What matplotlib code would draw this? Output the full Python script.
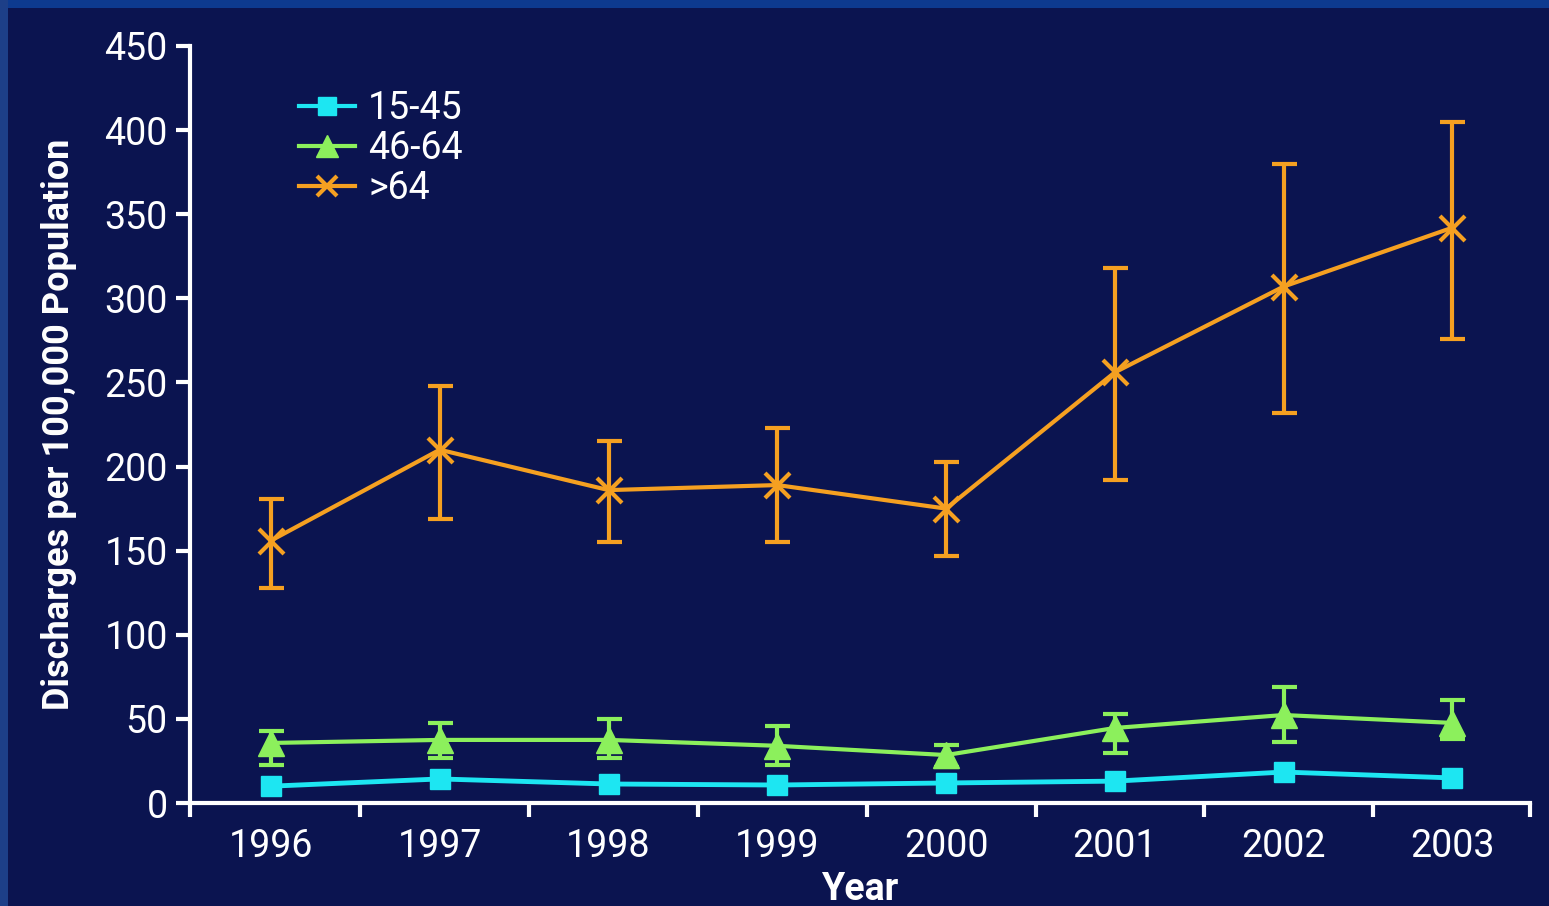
import matplotlib
matplotlib.use("Agg")
import matplotlib.pyplot as plt
from matplotlib.patches import Rectangle
from matplotlib.lines import Line2D
import numpy as np

years = ["1996", "1997", "1998", "1999", "2000", "2001", "2002", "2003"]

age_15_45 = [10, 14.3, 11.3, 10.7, 11.9, 13, 18.4, 14.9]

age_46_64 = [35.7, 37.5, 37.5, 34, 28.5, 44.6, 52.3, 47.6]
age_46_64_hi = [43, 47.6, 50, 45.8, 34.5, 53, 69, 61]
age_46_64_lo = [22.6, 26.8, 26.8, 22.6, 21.4, 29.7, 36.3, 38]

age_over64 = [156, 210, 186, 189, 175, 256, 307, 342]
age_over64_hi = [181, 248, 215, 223, 203, 318, 380, 405]
age_over64_lo = [128, 169, 155, 155, 147, 192, 232, 276]

series_labels = ["15-45", "46-64", ">64"]
y_ticks = [0, 50, 100, 150, 200, 250, 300, 350, 400, 450]

BG = "#0b1450"
WHITE = "#ffffff"
CYAN = "#1de6f2"
GREEN = "#8cf05c"
ORANGE = "#f5a021"

plt.rcParams['font.family'] = ['Liberation Sans Narrow', 'Roboto', 'DejaVu Sans']

W, H = 1549, 906
fig = plt.figure(figsize=(W / 100, H / 100), dpi=100)
fig.patch.set_facecolor(BG)
# frame strips
fig.patches.append(Rectangle((0, 1 - 8 / H), 1, 8 / H, transform=fig.transFigure,
                             facecolor="#0d3a8f", edgecolor="none", zorder=0))
fig.patches.append(Rectangle((0, 0), 8 / W, 1, transform=fig.transFigure,
                             facecolor="#1d3f88", edgecolor="none", zorder=0))

left, right, top, bottom = 190, 1530, 46, 803
ax = fig.add_axes([left / W, 1 - bottom / H, (right - left) / W, (bottom - top) / H])
ax.set_facecolor(BG)

x = np.arange(len(years))


def err(vals, lo, hi):
    v = np.array(vals)
    return [v - np.array(lo), np.array(hi) - v]


MS_SQ, MS_TRI, MS_X = 15, 19, 18

ax.plot(x, age_15_45, color=CYAN, lw=3.5, marker="s", ms=MS_SQ, mec=CYAN, mfc=CYAN, zorder=3)
ax.errorbar(x, age_46_64, yerr=err(age_46_64, age_46_64_lo, age_46_64_hi), color=GREEN,
            lw=3, elinewidth=3, capsize=9, capthick=3, marker="^", ms=MS_TRI,
            mec=GREEN, mfc=GREEN, zorder=3)
ax.errorbar(x, age_over64, yerr=err(age_over64, age_over64_lo, age_over64_hi), color=ORANGE,
            lw=3, elinewidth=3, capsize=9, capthick=3, marker="x", ms=MS_X, mew=3, zorder=3)

ax.set_xlim(-0.48, len(years) - 0.54)
ax.set_ylim(0, 450)
ax.set_yticks(y_ticks)
ax.set_xticks(x)
ax.set_xticklabels(years)
minor = [-0.48] + list(np.arange(0.53, len(years) - 1, 1.0)) + [len(years) - 0.54]
ax.set_xticks(minor, minor=True)

for s in ["top", "right"]:
    ax.spines[s].set_visible(False)
for s in ["left", "bottom"]:
    ax.spines[s].set_color(WHITE)
    ax.spines[s].set_linewidth(3)

ax.tick_params(axis="y", colors=WHITE, labelsize=27, length=10, width=3, pad=6)
ax.tick_params(axis="x", which="major", colors=WHITE, labelsize=27, length=0, pad=18)
ax.tick_params(axis="x", which="minor", colors=WHITE, length=10, width=3)

ax.set_ylabel("Discharges per 100,000 Population", color=WHITE, fontsize=26,
              fontweight="bold", labelpad=20)
ax.set_xlabel("Year", color=WHITE, fontsize=27, fontweight="bold", labelpad=4)

handles = [
    Line2D([], [], color=CYAN, lw=3, marker="s", ms=13, mec=CYAN, mfc=CYAN),
    Line2D([], [], color=GREEN, lw=3, marker="^", ms=16, mec=GREEN, mfc=GREEN),
    Line2D([], [], color=ORANGE, lw=3, marker="x", ms=15, mew=3),
]
leg = ax.legend(handles, series_labels, loc="upper left", bbox_to_anchor=(0.07, 0.962),
                frameon=False, fontsize=27, labelcolor=WHITE, handlelength=1.5,
                handletextpad=0.35, labelspacing=0.08, borderaxespad=0)

fig.savefig("out.png", dpi=100, facecolor=BG)
